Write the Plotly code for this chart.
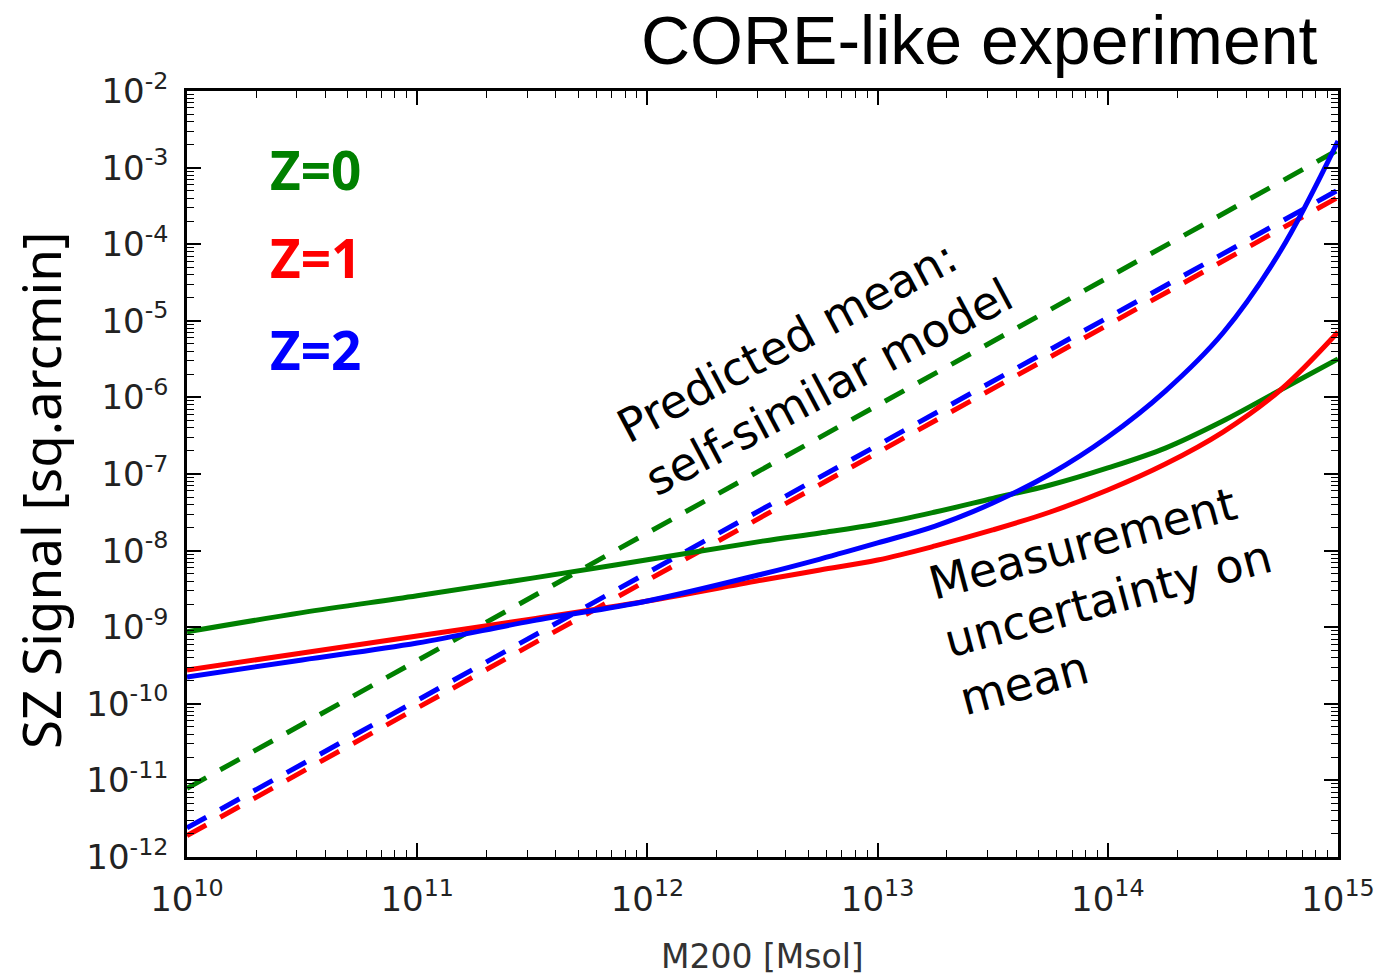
import plotly.graph_objects as go

# Cluster mass grid (log10 of M200 in solar masses)
log_mass = [10.0, 10.5, 11.0, 11.5, 12.0, 12.5, 12.75, 13.0, 13.25, 13.5, 13.75,
            14.0, 14.25, 14.5, 14.75, 15.0]
mass = [10 ** m for m in log_mass]

# Measurement uncertainty on the mean SZ signal [sq.arcmin]
sigma_z0 = [8.71e-10, 1.55e-09, 2.57e-09, 4.37e-09, 7.59e-09, 1.33e-08, 1.70e-08,
            2.22e-08, 3.19e-08, 4.79e-08, 7.18e-08, 1.20e-07, 2.18e-07, 4.92e-07,
            1.25e-06, 3.17e-06]
sigma_z1 = [2.76e-10, 4.60e-10, 7.67e-10, 1.28e-09, 2.20e-09, 4.13e-09, 5.58e-09,
            7.53e-09, 1.15e-08, 1.86e-08, 3.19e-08, 6.18e-08, 1.35e-07, 3.53e-07,
            1.25e-06, 7.14e-06]
sigma_z2 = [2.24e-10, 3.73e-10, 6.22e-10, 1.21e-09, 2.20e-09, 4.95e-09, 7.76e-09,
            1.26e-08, 2.09e-08, 4.18e-08, 1.00e-07, 3.04e-07, 1.21e-06, 6.93e-06,
            8.15e-05, 2.22e-03]

# Predicted mean from the self-similar model (power law in mass)
model_mass = [1e10, 1e15]
mean_z0 = [7.9e-12, 1.7e-03]
mean_z1 = [1.9e-12, 4.1e-04]
mean_z2 = [2.4e-12, 5.1e-04]

# Decade tick labels
x_tick_vals = [1e10, 1e11, 1e12, 1e13, 1e14, 1e15]
x_tick_text = ["10<sup>10</sup>", "10<sup>11</sup>", "10<sup>12</sup>",
               "10<sup>13</sup>", "10<sup>14</sup>", "10<sup>15</sup>"]
y_tick_vals = [1e-12, 1e-11, 1e-10, 1e-9, 1e-8, 1e-7, 1e-6, 1e-5, 1e-4, 1e-3, 1e-2]
y_tick_text = ["10<sup>-12</sup>", "10<sup>-11</sup>", "10<sup>-10</sup>",
               "10<sup>-9</sup>", "10<sup>-8</sup>", "10<sup>-7</sup>",
               "10<sup>-6</sup>", "10<sup>-5</sup>", "10<sup>-4</sup>",
               "10<sup>-3</sup>", "10<sup>-2</sup>"]

GREEN, RED, BLUE = "#008000", "#ff0000", "#0000ff"
DASH = "22px,16px"

fig = go.Figure()
fig.add_trace(go.Scatter(x=model_mass, y=mean_z0, mode="lines",
                         line=dict(color=GREEN, width=5, dash=DASH)))
fig.add_trace(go.Scatter(x=model_mass, y=mean_z1, mode="lines",
                         line=dict(color=RED, width=5, dash=DASH)))
fig.add_trace(go.Scatter(x=model_mass, y=mean_z2, mode="lines",
                         line=dict(color=BLUE, width=5, dash=DASH)))
for vals, col in [(sigma_z0, GREEN), (sigma_z1, RED), (sigma_z2, BLUE)]:
    fig.add_trace(go.Scatter(x=mass, y=vals, mode="lines",
                             line=dict(color=col, width=5, shape="spline", smoothing=1.0)))

tick_font = dict(family="DejaVu Sans", size=34, color="#222222")
axis_common = dict(
    type="log", tickmode="array", showgrid=False, zeroline=False,
    showline=True, linecolor="black", linewidth=2.5, mirror="ticks",
    ticks="inside", ticklen=14, tickwidth=1.5, tickcolor="black",
    tickfont=tick_font,
    minor=dict(ticks="inside", ticklen=7, tickwidth=1.2, tickcolor="black",
               dtick="D1", showgrid=False),
)

fig.update_xaxes(range=[10, 15], tickvals=x_tick_vals, ticktext=x_tick_text,
                 ticklabelstandoff=10, **axis_common)
fig.update_yaxes(range=[-12, -2], tickvals=y_tick_vals, ticktext=y_tick_text,
                 ticklabelstandoff=9, **axis_common)

annotations = [
    dict(text="CORE-like experiment", xref="paper", yref="paper",
         x=0.9844, y=1.0666, xanchor="right", yanchor="middle", showarrow=False,
         font=dict(family="Liberation Sans", size=68, color="black")),
    dict(text="SZ Signal [sq.arcmin]", xref="paper", yref="paper",
         x=-0.1277, y=0.479, textangle=-90, xanchor="center", yanchor="middle",
         showarrow=False, font=dict(family="Noto Sans", size=53, color="black")),
    dict(text="M200 [Msol]", xref="paper", yref="paper",
         x=0.4996, y=-0.1305, xanchor="center", yanchor="middle", showarrow=False,
         font=dict(family="DejaVu Sans", size=33, color="#333333")),
    dict(text="<b>Z=0</b>", x=10.352, y=-3.03, xanchor="left", yanchor="middle",
         showarrow=False, font=dict(family="Noto Sans", size=53, color=GREEN)),
    dict(text="<b>Z=1</b>", x=10.352, y=-4.18, xanchor="left", yanchor="middle",
         showarrow=False, font=dict(family="Noto Sans", size=53, color=RED)),
    dict(text="<b>Z=2</b>", x=10.352, y=-5.38, xanchor="left", yanchor="middle",
         showarrow=False, font=dict(family="Noto Sans", size=53, color=BLUE)),
    dict(text="Predicted mean:<br>self-similar model", x=12.725, y=-5.52,
         textangle=-28, align="left", xanchor="center", yanchor="middle",
         showarrow=False, font=dict(family="DejaVu Sans", size=46, color="black")),
    dict(text="Measurement<br>uncertainty on<br>mean", x=14.0, y=-8.63,
         textangle=-15, align="left", xanchor="center", yanchor="middle",
         showarrow=False, font=dict(family="DejaVu Sans", size=46, color="black")),
]

fig.update_layout(
    width=1394, height=976, autosize=False,
    margin=dict(l=187, r=56, t=91, b=119),
    paper_bgcolor="white", plot_bgcolor="white",
    showlegend=False, annotations=annotations,
)

fig.write_html("out.html")
